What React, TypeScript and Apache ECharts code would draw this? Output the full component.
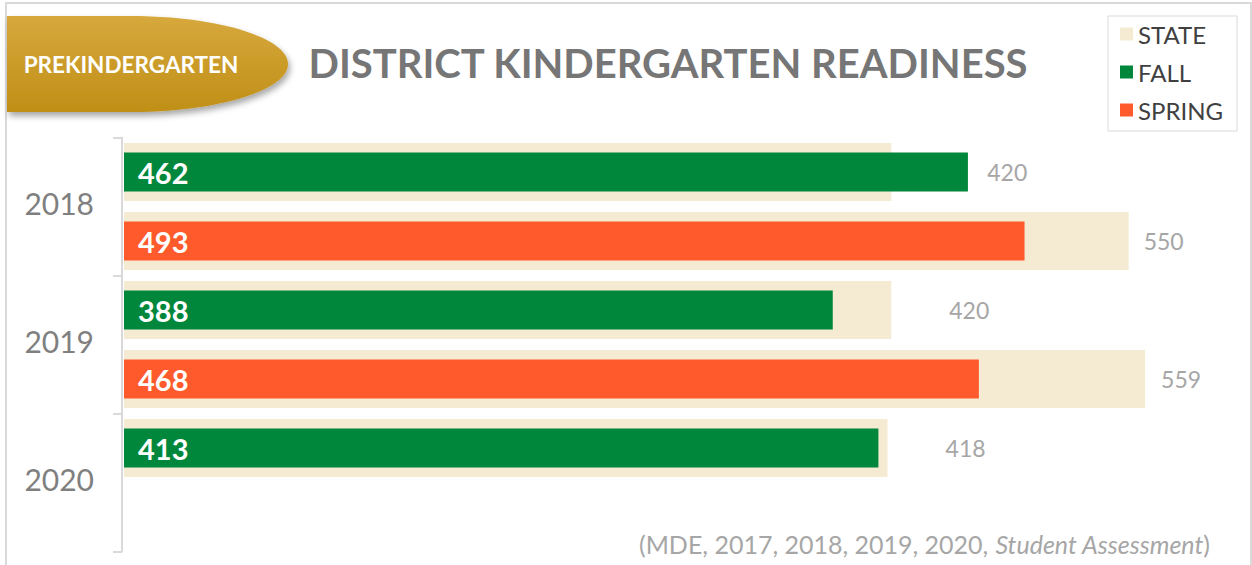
import React, { useEffect, useRef } from "react";
import * as echarts from "echarts";

// ---- data ----
const rowKeys = ["2018-fall", "2018-spring", "2019-fall", "2019-spring", "2020-fall", "2020-spring"];
const years = ["2018", "2019", "2020"];
const stateValues: (number | null)[] = [420, 550, 420, 559, 418, null];
const fallValues: (number | null)[] = [462, null, 388, null, 413, null];
const springValues: (number | null)[] = [null, 493, null, 468, null, null];
const legendNames = ["STATE", "FALL", "SPRING"];
const titleText = "DISTRICT KINDERGARTEN READINESS";
const badgeText = "PREKINDERGARTEN";
const sourcePlain = "(MDE, 2017, 2018, 2019, 2020, ";
const sourceItalic = "Student Assessment";

// ---- styles ----
const STATE_COLOR = "#f5ebd2";
const FALL_COLOR = "#00873c";
const SPRING_COLOR = "#ff5a2c";
const STATE_LABEL_GAP = [96, 15, 58, 16, 58, 0];

const BADGE_PATH =
  "M0 0 L123 0 C210 0 281 21.5 281 48 C281 74.5 210 96 123 96 L0 96 Z";

let registered = false;

export default function App() {
  const ref = useRef<HTMLDivElement>(null);
  useEffect(() => {
    if (!registered) {
      echarts.graphic.registerShape("badge", echarts.graphic.extendPath(BADGE_PATH, {}) as any);
      registered = true;
    }
    const chart = echarts.init(ref.current!, null, { renderer: "svg" });
    const font = "Lato, 'Open Sans', sans-serif";
    const option: any = {
      animation: false,
      backgroundColor: "#ffffff",
      grid: { left: 124, top: 137.5, width: 1096, height: 414, containLabel: false },
      legend: {
        orient: "vertical",
        left: 1108,
        top: 16,
        padding: [6, 14, 9, 12],
        borderColor: "#d9d9d9",
        borderWidth: 1,
        itemWidth: 13,
        itemHeight: 13,
        itemGap: 14,
        icon: "rect",
        data: legendNames,
        textStyle: { fontFamily: font, fontSize: 24, color: "#404040" },
      },
      xAxis: { type: "value", min: 0, max: 600, show: false },
      yAxis: [
        { type: "category", data: rowKeys, inverse: true, show: false },
        { type: "category", data: rowKeys, inverse: true, show: false },
        {
          type: "category",
          data: years,
          inverse: true,
          position: "left",
          offset: 2,
          axisLine: { show: true, lineStyle: { color: "#d9d9d9", width: 2 } },
          axisTick: { show: true, length: 9, lineStyle: { color: "#d9d9d9", width: 2 } },
          axisLabel: {
            margin: 28,
            formatter: (v: string) => "{y|" + v + "}",
            rich: {
              y: {
                fontFamily: font,
                fontSize: 30,
                color: "#7f7f7f",
                padding: [0, 0, 8, 0],
              },
            },
          },
          splitLine: { show: false },
        },
      ],
      series: [
        {
          name: "STATE",
          type: "bar",
          yAxisIndex: 1,
          barWidth: 58,
          itemStyle: { color: STATE_COLOR },
          data: stateValues.map((v, i) => ({
            value: v,
            label: {
              show: v !== null,
              position: "right",
              distance: STATE_LABEL_GAP[i],
              fontFamily: font,
              fontSize: 23,
              color: "#a6a6a6",
            },
          })),
          z: 1,
        },
        {
          name: "FALL",
          type: "bar",
          yAxisIndex: 0,
          barWidth: 39,
          barGap: "-100%",
          itemStyle: { color: FALL_COLOR },
          label: {
            show: true,
            position: "insideLeft",
            distance: 14,
            fontFamily: font,
            fontWeight: "bold",
            fontSize: 29,
            color: "#ffffff",
          },
          data: fallValues,
          z: 3,
        },
        {
          name: "SPRING",
          type: "bar",
          yAxisIndex: 0,
          barWidth: 39,
          barGap: "-100%",
          itemStyle: { color: SPRING_COLOR },
          label: {
            show: true,
            position: "insideLeft",
            distance: 14,
            fontFamily: font,
            fontWeight: "bold",
            fontSize: 29,
            color: "#ffffff",
          },
          data: springValues,
          z: 3,
        },
      ],
      graphic: [
        {
          type: "rect",
          z: 0,
          silent: true,
          shape: { x: 6, y: 3, width: 1245, height: 620 },
          style: { fill: "none", stroke: "#d9d9d9", lineWidth: 2 },
        },
        {
          type: "badge",
          x: 7,
          y: 16,
          z: 10,
          style: {
            fill: new echarts.graphic.LinearGradient(0, 0, 0, 1, [
              { offset: 0, color: "#d7a83c" },
              { offset: 1, color: "#c08f17" },
            ]),
            shadowBlur: 6,
            shadowOffsetX: 2,
            shadowOffsetY: 4,
            shadowColor: "rgba(0,0,0,0.35)",
          },
        },
        {
          type: "text",
          x: 131,
          y: 64,
          z: 11,
          style: {
            text: badgeText,
            fontFamily: font,
            fontWeight: "bold",
            fontSize: 22.5,
            fill: "#ffffff",
            align: "center",
            verticalAlign: "middle",
          },
        },
        {
          type: "text",
          x: 668,
          y: 63,
          z: 11,
          style: {
            text: titleText,
            fontFamily: font,
            fontWeight: "bold",
            fontSize: 40,
            fill: "#767676",
            align: "center",
            verticalAlign: "middle",
          },
        },
        {
          type: "text",
          x: 1210,
          y: 544,
          z: 11,
          style: {
            text: "{n|" + sourcePlain + "}{i|" + sourceItalic + "}{n|)}",
            align: "right",
            verticalAlign: "middle",
            rich: {
              n: { fontFamily: font, fontSize: 25, fill: "#a6a6a6", color: "#a6a6a6" },
              i: { fontFamily: font, fontSize: 25, fontStyle: "italic", fill: "#a6a6a6", color: "#a6a6a6" },
            },
          },
        },
      ],
    };
    chart.setOption(option);
    return () => chart.dispose();
  }, []);
  return (
    <div
      ref={ref}
      style={{ position: "fixed", left: 0, top: 0, width: 1252, height: 565, background: "#fff" }}
    />
  );
}
